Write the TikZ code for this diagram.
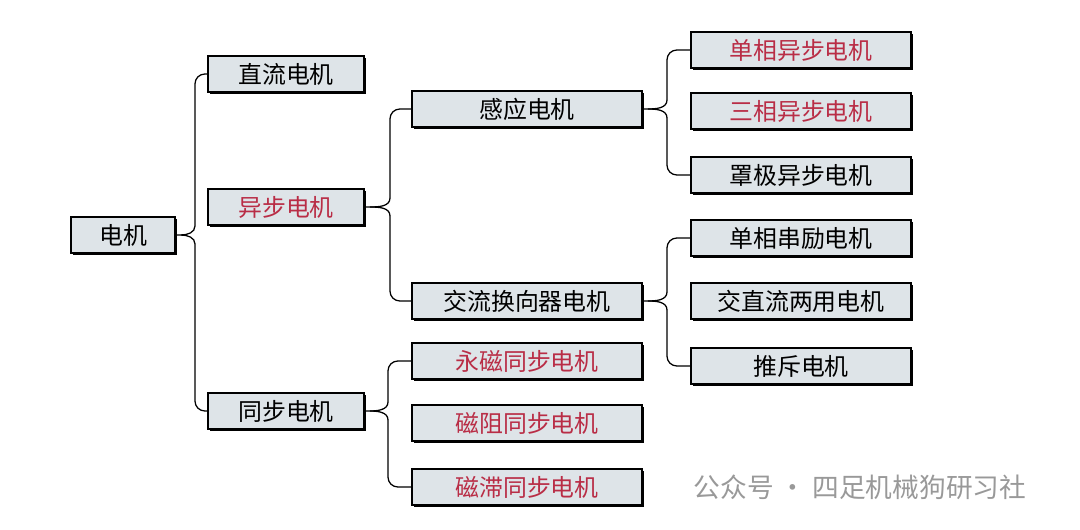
\documentclass[tikz,border=0pt]{standalone}
\usepackage{fontspec}
\newfontfamily\cjk{Noto Sans CJK SC}
\usetikzlibrary{calc,shadows}
\definecolor{boxred}{RGB}{185,45,70}
\definecolor{boxfill}{RGB}{222,228,232}

\begin{document}
\begin{tikzpicture}[x=0.025cm, y=-0.025cm,
    box/.style={draw, line width=1.3pt, fill=boxfill, minimum height=0.9cm,
        inner sep=0pt, font=\cjk\fontsize{17}{20}\selectfont,
        drop shadow={shadow xshift=1.2pt, shadow yshift=-1.2pt, fill=black, opacity=1}},
    red/.style={text=boxred},
    brace/.style={line width=0.9pt, rounded corners=7pt}]
    \useasboundingbox (0,0) rectangle (1080,530);
    \def\Wa{2.6cm} \def\Wb{3.9cm} \def\Wc{5.75cm} \def\Wd{5.5cm}

    % first level
    \node [box, minimum width=\Wa] (motor) at (123, 235) {电机};
    \node [box, minimum width=\Wb] (dc) at (286, 74) {直流电机};
    \node [box, minimum width=\Wb, red] (async) at (286, 207) {异步电机};
    \node [box, minimum width=\Wb] (sync) at (286, 411) {同步电机};

    % second level
    \node [box, minimum width=\Wc] (induct) at (527, 109) {感应电机};
    \node [box, minimum width=\Wc] (commut) at (527, 301) {交流换向器电机};
    \node [box, minimum width=\Wc, red] (pm) at (527, 361) {永磁同步电机};
    \node [box, minimum width=\Wc, red] (rel) at (527, 423) {磁阻同步电机};
    \node [box, minimum width=\Wc, red] (hyst) at (527, 487) {磁滞同步电机};

    % third level
    \node [box, minimum width=\Wd, red] (single) at (801, 50) {单相异步电机};
    \node [box, minimum width=\Wd, red] (three) at (801, 111) {三相异步电机};
    \node [box, minimum width=\Wd] (shaded) at (801, 175) {罩极异步电机};
    \node [box, minimum width=\Wd] (series) at (801, 238) {单相串励电机};
    \node [box, minimum width=\Wd] (univ) at (801, 301) {交直流两用电机};
    \node [box, minimum width=\Wd] (repul) at (801, 366) {推斥电机};

    % braces
    \foreach \p/\a/\b/\x in {motor/dc/sync/195, async/induct/commut/390,
        sync/pm/hyst/388, induct/single/shaded/667, commut/series/repul/667} {
        \coordinate (xl) at (\x, 0);
        \draw [brace] (\a.west) -| ($ (\p.east -| xl) + (0, -9) $);
        \draw [brace] (\b.west) -| ($ (\p.east -| xl) + (0, 9) $);
        \draw [line width=0.9pt] (\p.east) -- ++(5, 0)
            to [out=0, in=90] ($ (\p.east -| xl) + (0, 9) $);
        \draw [line width=0.9pt] ($ (\p.east) + (5, 0) $)
            to [out=0, in=-90] ($ (\p.east -| xl) + (0, -9) $);
    }

    % watermark
    \node [text=gray!80, font=\cjk\fontsize{19}{22}\selectfont] (mark) at (860, 487) {公众号 · 四足机械狗研习社};
\end{tikzpicture}
\end{document}
